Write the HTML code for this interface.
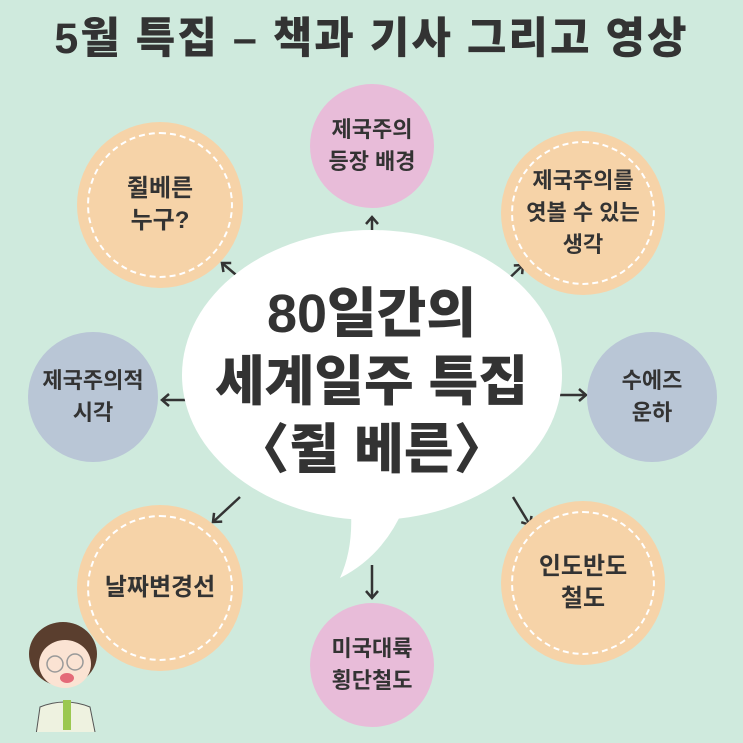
<!DOCTYPE html><html><head><meta charset="utf-8"><style>
body{margin:0;width:743px;height:743px;background:#cfeadd;position:relative;overflow:hidden;font-family:"Liberation Sans","Noto Sans CJK KR",sans-serif;color:#333;}
.t{position:absolute;left:0;width:743px;text-align:center;top:4px;font-size:43px;font-weight:900;letter-spacing:2px;white-space:nowrap}
.c{position:absolute;border-radius:50%;display:flex;align-items:center;justify-content:center;text-align:center;font-weight:700;font-size:24px;line-height:32px;box-sizing:border-box}
.o{background:#f6d3a8}.o::after{content:"";position:absolute;inset:10px;border:2px dashed #fff;border-radius:50%}
.p{background:#e8bcd9}.b{background:#b9c6d6}
.m{position:absolute;left:0;width:743px;text-align:center;font-weight:900;font-size:54px;line-height:68px;top:280px}
</style></head><body>
<div class="t">5월 특집 – 책과 기사 그리고 영상</div>
<svg width="743" height="743" style="position:absolute;left:0;top:0">
<defs><marker id="a" markerWidth="16" markerHeight="16" refX="10" refY="8" orient="auto" markerUnits="userSpaceOnUse"><path d="M3,2 L10,8 L3,14" fill="none" stroke="#333" stroke-width="2.5"/></marker></defs>
<g stroke="#333" stroke-width="2.5" marker-end="url(#a)">
<line x1="248" y1="285" x2="222" y2="263"/>
<line x1="372" y1="240" x2="372" y2="217"/>
<line x1="497" y1="290" x2="523" y2="265"/>
<line x1="190" y1="400" x2="162" y2="400"/>
<line x1="555" y1="395" x2="586" y2="395"/>
<line x1="240" y1="497" x2="213" y2="522"/>
<line x1="372" y1="565" x2="372" y2="598"/>
<line x1="513" y1="497" x2="530" y2="525"/>
</g>
<ellipse cx="372" cy="375" rx="190" ry="145" fill="#fff"/>
<path d="M350,500 Q355,545 340,578 Q385,555 405,505 Z" fill="#fff"/>
</svg>
<div class="c o" style="left:77px;top:122px;width:166px;height:166px">쥘베른<br>누구?</div>
<div class="c p" style="left:310px;top:84px;width:124px;height:124px;font-size:22px">제국주의<br>등장 배경</div>
<div class="c o" style="left:501px;top:131px;width:164px;height:164px;font-size:22px">제국주의를<br>엿볼 수 있는<br>생각</div>
<div class="c b" style="left:28px;top:332px;width:130px;height:130px;font-size:22px">제국주의적<br>시각</div>
<div class="c b" style="left:587px;top:332px;width:130px;height:130px;font-size:22px">수에즈<br>운하</div>
<div class="c o" style="left:77px;top:505px;width:166px;height:166px">날짜변경선</div>
<div class="c o" style="left:501px;top:501px;width:164px;height:164px">인도반도<br>철도</div>
<div class="c p" style="left:310px;top:603px;width:124px;height:124px;font-size:22px">미국대륙<br>횡단철도</div>
<div class="m">80일간의<br>세계일주 특집<br>〈쥘 베른〉</div>
<svg width="100" height="120" style="position:absolute;left:15px;top:612px">
<ellipse cx="48" cy="42" rx="34" ry="32" fill="#5a3e2e"/>
<ellipse cx="50" cy="52" rx="26" ry="24" fill="#fbe3d3"/>
<circle cx="40" cy="52" r="8" fill="none" stroke="#999" stroke-width="1.5"/>
<circle cx="60" cy="50" r="8" fill="none" stroke="#999" stroke-width="1.5"/>
<ellipse cx="52" cy="66" rx="7" ry="5" fill="#e46a78"/>
<path d="M20,130 L25,95 Q50,85 75,95 L82,130 Z" fill="#eef2e0" stroke="#555"/>
<rect x="48" y="88" width="8" height="30" fill="#9bc850"/>
</svg>
</body></html>
